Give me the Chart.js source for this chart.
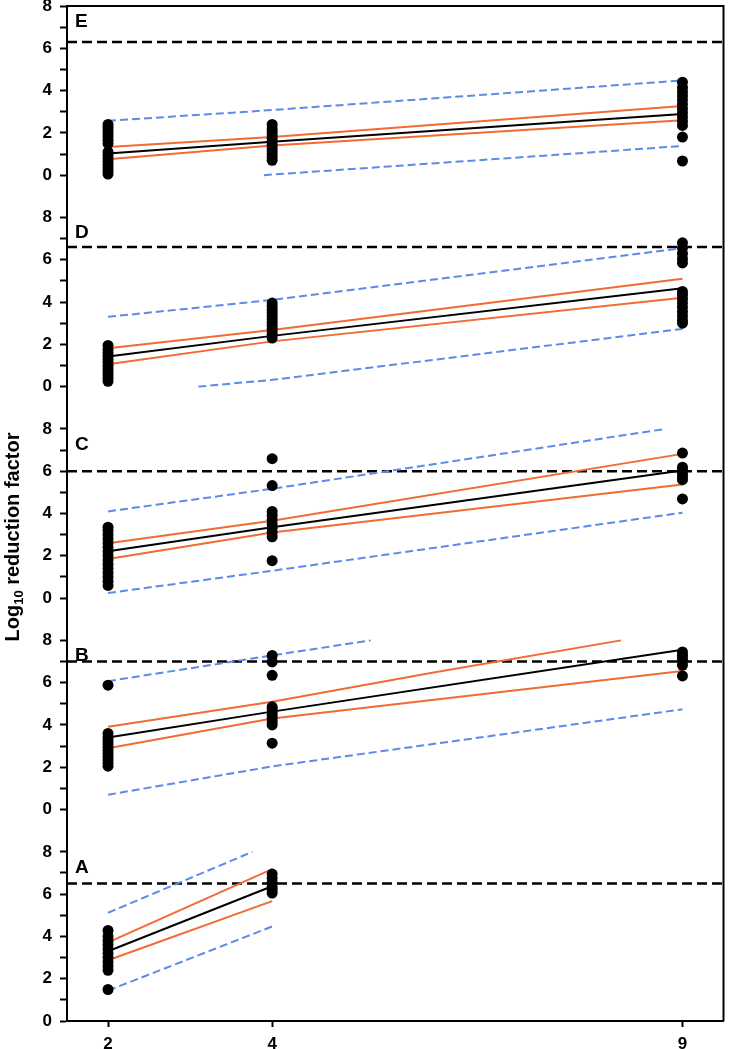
<!DOCTYPE html>
<html>
<head>
<meta charset="utf-8">
<script src="https://cdn.jsdelivr.net/npm/chart.js@4.4.0/dist/chart.umd.min.js"></script>
<style>
  html, body { margin: 0; padding: 0; background: #fff; }
</style>
</head>
<body>
<canvas id="chart" width="729" height="1049"></canvas>
<script>
const FONT = "'Liberation Sans', Arial, sans-serif";

// panels from top to bottom
const panels = ["E", "D", "C", "B", "A"];
const limits = [6.3, 6.6, 6.0, 7.0, 6.5];   // dashed reference line per panel
const xTicks = [2, 4, 9];

// observed values at x = 2, 4, 9
const dotsE = {
  2: [0.05, 0.2, 0.35, 0.5, 0.65, 0.8, 0.95, 1.1, 1.5, 1.65, 1.8, 1.95, 2.1, 2.25, 2.4],
  4: [0.7, 0.85, 1.0, 1.15, 1.3, 1.45, 1.6, 1.75, 1.9, 2.05, 2.2, 2.4],
  9: [0.67, 1.8, 2.35, 2.55, 2.75, 2.95, 3.15, 3.35, 3.55, 3.75, 3.95, 4.15, 4.4]
};
const dotsD = {
  2: [0.25, 0.4, 0.55, 0.7, 0.85, 1.0, 1.15, 1.3, 1.45, 1.6, 1.75, 1.95],
  4: [2.3, 2.45, 2.6, 2.75, 2.9, 3.05, 3.2, 3.35, 3.5, 3.65, 3.8, 3.95],
  9: [3.0, 3.15, 3.35, 3.55, 3.75, 3.95, 4.15, 4.35, 4.5, 5.85, 6.05, 6.3, 6.55, 6.8]
};
const dotsC = {
  2: [0.6, 0.8, 1.0, 1.2, 1.4, 1.6, 1.8, 2.0, 2.2, 2.4, 2.6, 2.8, 3.0, 3.2, 3.35],
  4: [1.77, 2.9, 3.1, 3.3, 3.5, 3.7, 3.9, 4.1, 5.32, 6.59],
  9: [4.69, 5.6, 5.75, 5.9, 6.05, 6.19, 6.86]
};
const dotsB = {
  2: [2.05, 2.2, 2.35, 2.5, 2.65, 2.8, 2.95, 3.1, 3.25, 3.4, 3.6, 5.88],
  4: [3.14, 4.0, 4.15, 4.3, 4.45, 4.6, 4.75, 4.86, 6.35, 6.98, 7.29],
  9: [6.32, 6.82, 7.0, 7.15, 7.3, 7.45]
};
const dotsA = {
  2: [1.49, 2.4, 2.6, 2.8, 3.0, 3.2, 3.4, 3.6, 3.8, 4.0, 4.28],
  4: [6.05, 6.2, 6.35, 6.55, 6.75, 6.95]
};

// regression line, confidence (ci) and prediction (pi) bands, as [x, y]
const fitE = [[2, 1.03], [4, 1.58], [9, 2.89]];
const ciHiE = [[2, 1.33], [4, 1.81], [9, 3.27]];
const ciLoE = [[2, 0.75], [4, 1.4], [9, 2.6]];
const piHiE = [[2, 2.57], [4, 3.08], [9, 4.48]];
const piLoE = [[3.9, 0.0], [9, 1.38]];

const fitD = [[2, 1.43], [4, 2.4], [9, 4.65]];
const ciHiD = [[2, 1.82], [4, 2.68], [9, 5.1]];
const ciLoD = [[2, 1.06], [4, 2.14], [9, 4.2]];
const piHiD = [[2, 3.3], [4, 4.1], [9, 6.55]];
const piLoD = [[3.1, 0.0], [4, 0.32], [9, 2.73]];

const fitC = [[2, 2.21], [4, 3.35], [9, 6.03]];
const ciHiC = [[2, 2.59], [4, 3.66], [9, 6.82]];
const ciLoC = [[2, 1.85], [4, 3.1], [9, 5.37]];
const piHiC = [[2, 4.1], [4, 5.17], [8.79, 8.0]];
const piLoC = [[2, 0.24], [4, 1.29], [9, 4.04]];

const fitB = [[2, 3.41], [4, 4.63], [9, 7.56]];
const ciHiB = [[2, 3.92], [4, 5.1], [6, 6.5], [8.25, 8.0]];
const ciLoB = [[2, 2.9], [4, 4.31], [9, 6.55]];
const piHiB = [[2, 6.07], [4, 7.29], [5.2, 8.0]];
const piLoB = [[2, 0.7], [4, 2.04], [9, 4.74]];

const fitA = [[2, 3.3], [4, 6.37]];
const ciHiA = [[2, 3.72], [4, 7.18]];
const ciLoA = [[2, 2.87], [4, 5.67]];
const piHiA = [[2, 5.12], [3.76, 8.0]];
const piLoA = [[2, 1.44], [4, 4.47]];

const series = {
  E: { dots: dotsE, fit: fitE, ciHi: ciHiE, ciLo: ciLoE, piHi: piHiE, piLo: piLoE },
  D: { dots: dotsD, fit: fitD, ciHi: ciHiD, ciLo: ciLoD, piHi: piHiD, piLo: piLoD },
  C: { dots: dotsC, fit: fitC, ciHi: ciHiC, ciLo: ciLoC, piHi: piHiC, piLo: piLoC },
  B: { dots: dotsB, fit: fitB, ciHi: ciHiB, ciLo: ciLoB, piHi: piHiB, piLo: piLoB },
  A: { dots: dotsA, fit: fitA, ciHi: ciHiA, ciLo: ciLoA, piHi: piHiA, piLo: piLoA }
};

const ORANGE = "#f26b33";
const BLUE = "#5b8be9";

// Defaults: bold Arial-like text, as in the figure
Chart.defaults.font.family = FONT;
Chart.defaults.font.size = 17;
Chart.defaults.font.weight = "bold";
Chart.defaults.color = "#000";

const toXY = pairs => pairs.map(p => ({ x: p[0], y: p[1] }));

function lineSet(pairs, axis, color, dash, width, order) {
  return {
    data: toXY(pairs),
    yAxisID: axis,
    showLine: true,
    borderColor: color,
    borderWidth: width,
    borderDash: dash,
    pointRadius: 0,
    clip: false,
    order: order
  };
}

// Build datasets
const datasets = [];
panels.forEach((p, i) => {
  const s = series[p];
  const axis = "y" + p;
  const dots = [];
  Object.keys(s.dots).forEach(x => {
    s.dots[x].forEach(v => dots.push({ x: Number(x), y: v }));
  });
  datasets.push({
    data: dots, yAxisID: axis, pointRadius: 5.5,
    backgroundColor: "#000", borderWidth: 0, clip: false, order: 0
  });
  datasets.push(lineSet([[1.5, limits[i]], [9.5, limits[i]]], axis, "#000", [10, 5], 2.5, 3));
  datasets.push(lineSet(s.piHi, axis, BLUE, [8, 4], 2, 2));
  datasets.push(lineSet(s.piLo, axis, BLUE, [8, 4], 2, 2));
  datasets.push(lineSet(s.ciHi, axis, ORANGE, [], 2, 1));
  datasets.push(lineSet(s.ciLo, axis, ORANGE, [], 2, 1));
  datasets.push(lineSet(s.fit, axis, "#000", [], 2, 1));
});

const tickFont = { family: FONT, size: 17, weight: "bold" };

const scales = {
  x: {
    type: "linear",
    min: 1.5,
    max: 9.5,
    afterBuildTicks: s => { s.ticks = xTicks.map(v => ({ value: v })); },
    afterFit: s => { s.height = 28; },
    grid: { drawOnChartArea: false, tickLength: 6, tickWidth: 2, tickColor: "#000" },
    border: { color: "#000", width: 2 },
    ticks: { font: tickFont, color: "#000", padding: 7 }
  }
};

panels.forEach((p, i) => {
  const top = i === 0 ? 8 : 10;
  scales["y" + p] = {
    type: "linear",
    position: "left",
    stack: "panels",
    stackWeight: top,
    weight: panels.length - i,
    min: 0,
    max: top,
    afterFit: s => { s.width = 67; s.paddingTop = 0; s.paddingBottom = 0; },
    grid: {
      drawOnChartArea: false,
      tickLength: 7,
      tickWidth: 2,
      tickColor: c => (c.tick && c.tick.value <= 8 ? "#000" : "rgba(0,0,0,0)")
    },
    border: { color: "#000", width: 2 },
    ticks: {
      stepSize: 1,
      autoSkip: false,
      font: tickFont,
      color: "#000",
      padding: 8,
      callback: v => (v % 2 === 0 && v <= 8 ? String(v) : "")
    }
  };
});

// Frame, panel letters and axis title
const decorations = {
  id: "decorations",
  afterDraw(chart) {
    const ctx = chart.ctx;
    const area = chart.chartArea;
    ctx.save();
    ctx.strokeStyle = "#000";
    ctx.lineWidth = 2;
    ctx.beginPath();
    ctx.moveTo(area.left, area.top);
    ctx.lineTo(area.right, area.top);
    ctx.lineTo(area.right, area.bottom);
    ctx.stroke();

    ctx.fillStyle = "#000";
    ctx.font = "bold 19px " + FONT;
    ctx.textBaseline = "alphabetic";
    panels.forEach(p => {
      const y8 = chart.scales["y" + p].getPixelForValue(8);
      ctx.fillText(p, 75, y8 + 21);
    });

    // Log10 reduction factor, rotated, with subscript
    const big = "bold 20px " + FONT;
    const small = "bold 13px " + FONT;
    ctx.font = big;
    const w1 = ctx.measureText("Log").width;
    const w3 = ctx.measureText(" reduction factor").width;
    ctx.font = small;
    const w2 = ctx.measureText("10").width;
    const total = w1 + w2 + w3;
    ctx.translate(19, 537);
    ctx.rotate(-Math.PI / 2);
    let x = -total / 2;
    ctx.font = big;
    ctx.fillText("Log", x, 0);
    x += w1;
    ctx.font = small;
    ctx.fillText("10", x, 4);
    x += w2;
    ctx.font = big;
    ctx.fillText(" reduction factor", x, 0);
    ctx.restore();
  }
};

new Chart(document.getElementById("chart"), {
  type: "scatter",
  data: { datasets: datasets },
  options: {
    responsive: false,
    devicePixelRatio: 1,
    animation: false,
    layout: { padding: { top: 6, right: 2, bottom: 0, left: 0 } },
    plugins: { legend: { display: false }, tooltip: { enabled: false } },
    scales: scales
  },
  plugins: [decorations]
});
</script>
</body>
</html>
